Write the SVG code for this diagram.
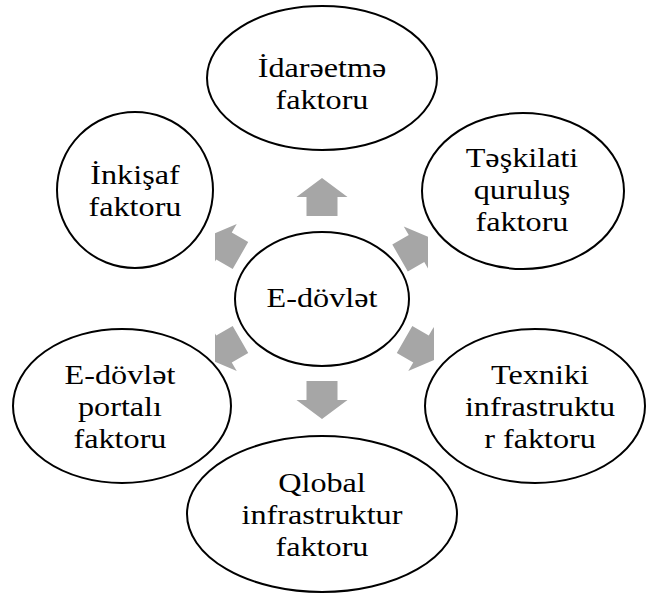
<svg xmlns="http://www.w3.org/2000/svg" width="647" height="593" viewBox="0 0 647 593">
<style>
text{font-family:'Liberation Serif','Tinos','Nimbus Roman','Nimbus Roman No9 L','FreeSerif','Noto Serif','Times',serif;font-size:28px;fill:#000;text-anchor:middle}
.node ellipse{fill:#fff;stroke:#000;stroke-width:2}
.arr{fill:#a6a6a6}
</style>
<defs>
<path id="arrow" d="M0,-19 L25.5,0 L15.5,0 L15.5,19 L-15.5,19 L-15.5,0 L-25.5,0 Z"/>
<clipPath id="clipR1"><rect x="0" y="0" width="428" height="593"/></clipPath>
<clipPath id="clipR2"><rect x="0" y="0" width="434" height="593"/></clipPath>
<clipPath id="clipL"><rect x="215" y="0" width="432" height="593"/></clipPath>
</defs>
<rect width="647" height="593" fill="#fff"/>
<g id="connectors">
<use href="#arrow" class="arr" transform="translate(322,197)"/>
<use href="#arrow" class="arr" transform="translate(322,400) rotate(180)"/>
<g clip-path="url(#clipR1)"><use href="#arrow" class="arr" transform="translate(416.5,248.5) rotate(60)"/></g>
<g clip-path="url(#clipR2)"><use href="#arrow" class="arr" transform="translate(421,349) rotate(120)"/></g>
<g clip-path="url(#clipL)"><use href="#arrow" class="arr" transform="translate(224,349) rotate(-120)"/></g>
<g clip-path="url(#clipL)"><use href="#arrow" class="arr" transform="translate(224,246) rotate(-60)"/></g>
</g>
<g id="center" class="node">
<ellipse cx="322" cy="299" rx="87" ry="67"/>
<text transform="translate(322,307) scale(1.15,1)">E-dövlət</text>
</g>
<g id="idareetme" class="node">
<ellipse cx="322" cy="78" rx="115" ry="72"/>
<text transform="translate(322,0) scale(1.15,1)"><tspan x="0" y="77">İdarəetmə</tspan><tspan x="0" y="109">faktoru</tspan></text>
</g>
<g id="teskilati" class="node">
<ellipse cx="523" cy="191" rx="101" ry="78"/>
<text transform="translate(522,0) scale(1.15,1)"><tspan x="0" y="167">Təşkilati</tspan><tspan x="0" y="199">quruluş</tspan><tspan x="0" y="231">faktoru</tspan></text>
</g>
<g id="texniki" class="node">
<ellipse cx="535" cy="406" rx="110" ry="77"/>
<text transform="translate(540,0) scale(1.15,1)"><tspan x="0" y="384">Texniki</tspan><tspan x="0" y="416">infrastruktu</tspan><tspan x="0" y="448">r faktoru</tspan></text>
</g>
<g id="qlobal" class="node">
<ellipse cx="322" cy="514" rx="135" ry="78"/>
<text transform="translate(322,0) scale(1.15,1)"><tspan x="0" y="492">Qlobal</tspan><tspan x="0" y="524">infrastruktur</tspan><tspan x="0" y="556">faktoru</tspan></text>
</g>
<g id="portal" class="node">
<ellipse cx="122" cy="406" rx="109" ry="77"/>
<text transform="translate(120,0) scale(1.15,1)"><tspan x="0" y="384">E-dövlət</tspan><tspan x="0" y="416">portalı</tspan><tspan x="0" y="448">faktoru</tspan></text>
</g>
<g id="inkisaf" class="node">
<ellipse cx="135" cy="190" rx="78" ry="78"/>
<text transform="translate(135,0) scale(1.15,1)"><tspan x="0" y="184">İnkişaf</tspan><tspan x="0" y="216">faktoru</tspan></text>
</g>
</svg>
